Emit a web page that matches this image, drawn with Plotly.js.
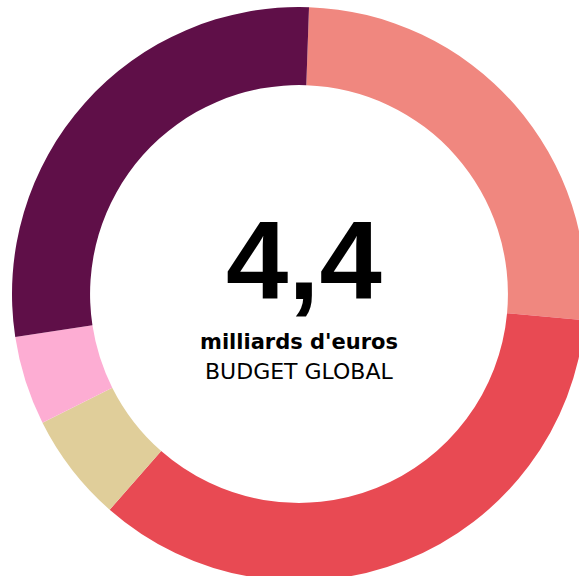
<!DOCTYPE html>
<html>
<head>
<meta charset="utf-8">
<script src="https://cdn.plot.ly/plotly-3.0.1.min.js"></script>
<style>
html,body{margin:0;padding:0;width:579px;height:576px;overflow:hidden;background:#fff;}
#chart{position:absolute;left:12px;top:7px;width:574px;height:574px;}
</style>
</head>
<body>
<div id="chart"></div>
<script>
// Budget split (milliards d'euros), clockwise from 12 o'clock
const categories = ["Part A", "Part B", "Part C", "Part D", "Part E"];
const values = [1.14, 1.54, 0.27, 0.22, 1.23];
const colors = ["#f0877f", "#e84a53", "#e0ce9a", "#fdadd3", "#5f0f48"];
const totalLabel = "4,4";
const unitLabel = "milliards d'euros";
const subLabel = "BUDGET GLOBAL";

const trace = {
  type: "pie",
  labels: categories,
  values: values,
  hole: 0.728,
  sort: false,
  direction: "clockwise",
  rotation: 2,
  textinfo: "none",
  hoverinfo: "label+value",
  marker: {colors: colors, line: {width: 0}},
  domain: {x: [0, 1], y: [0, 1]}
};

const layout = {
  width: 574, height: 574,
  margin: {l: 0, r: 0, t: 0, b: 0, pad: 0},
  paper_bgcolor: "rgba(0,0,0,0)",
  plot_bgcolor: "rgba(0,0,0,0)",
  showlegend: false,
  annotations: [
    {text: "<b>" + totalLabel + "</b>", x: 0.5087, y: 0.559, xref: "paper", yref: "paper",
     xanchor: "center", yanchor: "middle", showarrow: false,
     font: {family: "Liberation Sans, Arial, sans-serif", size: 112, color: "#000"}},
    {text: "<b>" + unitLabel + "</b>", x: 0.5, y: 0.4169, xref: "paper", yref: "paper",
     xanchor: "center", yanchor: "middle", showarrow: false,
     font: {family: "DejaVu Sans, sans-serif", size: 21, color: "#000"}},
    {text: subLabel, x: 0.5, y: 0.3652, xref: "paper", yref: "paper",
     xanchor: "center", yanchor: "middle", showarrow: false,
     font: {family: "DejaVu Sans, sans-serif", size: 22, color: "#000"}}
  ]
};

Plotly.newPlot("chart", [trace], layout, {displayModeBar: false, staticPlot: true});
</script>
</body>
</html>
